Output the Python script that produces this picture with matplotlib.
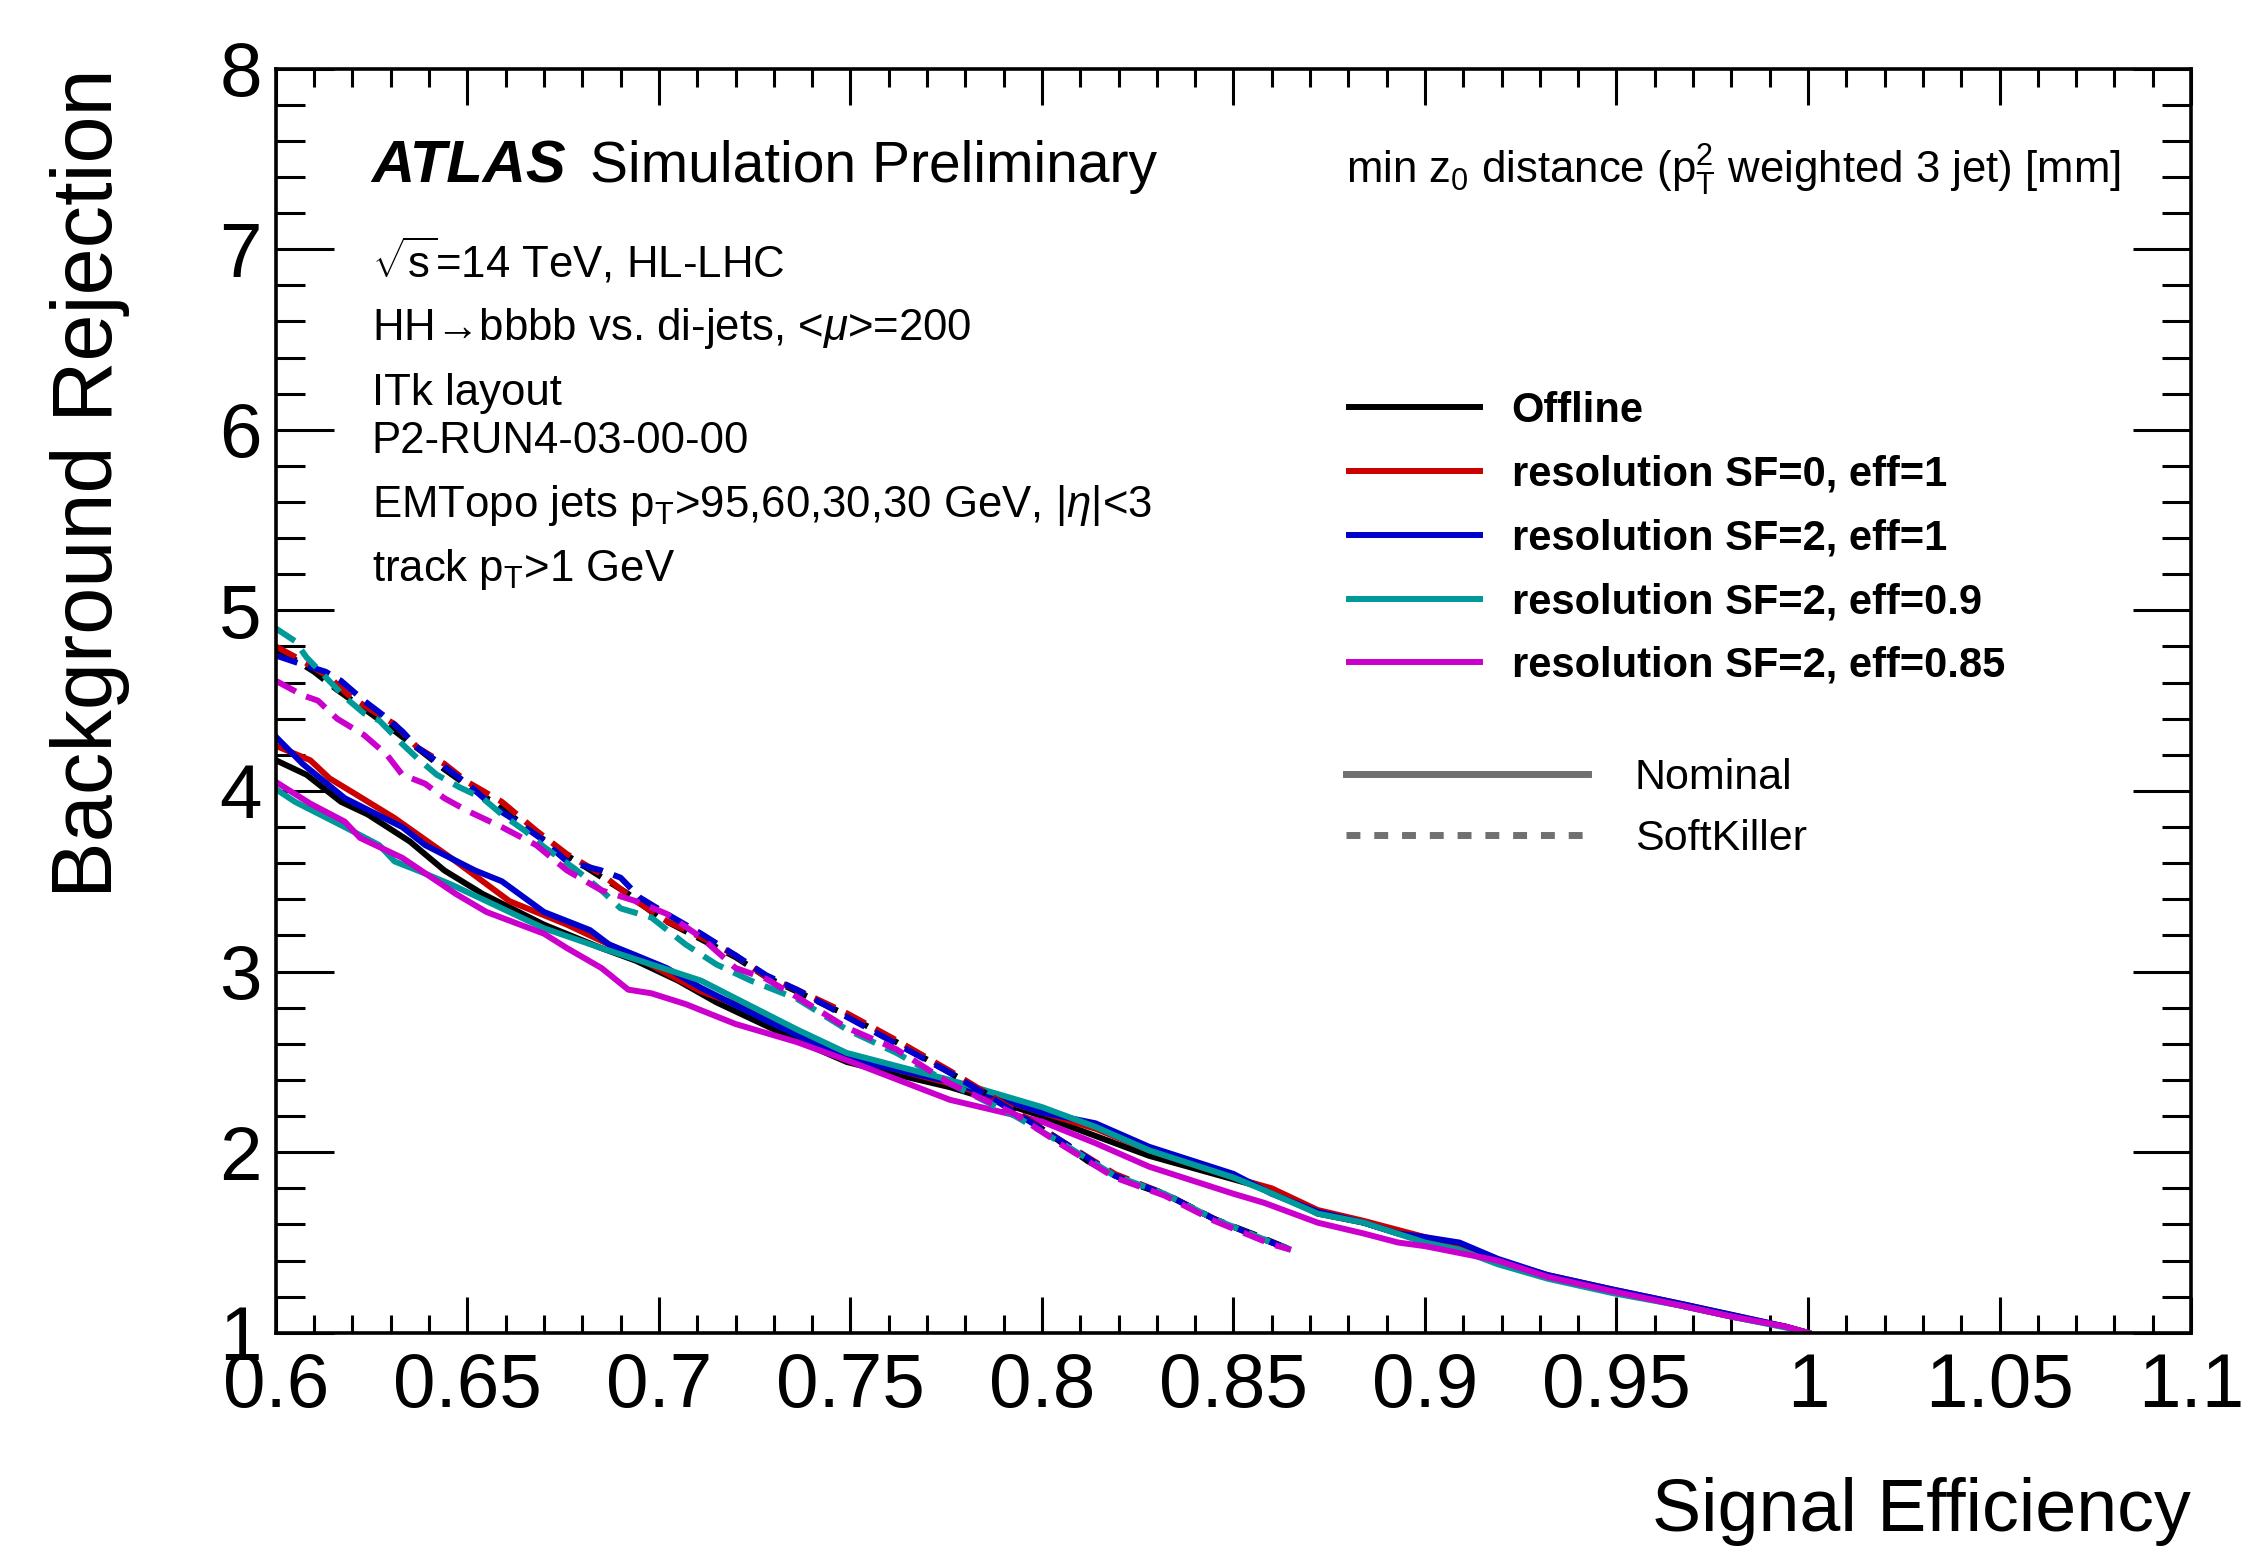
import matplotlib
matplotlib.use("Agg")
import matplotlib.pyplot as plt
from matplotlib.lines import Line2D
from matplotlib.ticker import MultipleLocator

plt.rcParams['font.family'] = ['Liberation Sans', 'DejaVu Sans']
plt.rcParams['mathtext.fontset'] = 'custom'
plt.rcParams['mathtext.rm'] = 'Liberation Sans'
plt.rcParams['mathtext.it'] = 'Liberation Sans:italic'
plt.rcParams['mathtext.bf'] = 'Liberation Sans:bold'

# ---- data ----
labels = ['Offline', 'resolution SF=0, eff=1', 'resolution SF=2, eff=1',
          'resolution SF=2, eff=0.9', 'resolution SF=2, eff=0.85']
colors = ['#000000', '#cc0000', '#0000cc', '#009999', '#cc00cc']

# nominal (solid)
x_off = [0.600, 0.608, 0.617, 0.624, 0.635, 0.644, 0.654, 0.670, 0.685, 0.694, 0.705, 0.715,
         0.728, 0.736, 0.749, 0.762, 0.776, 0.790, 0.800, 0.814, 0.828, 0.850, 0.860, 0.872,
         0.884, 0.893, 0.900, 0.909, 0.919, 0.932, 0.949, 0.967, 0.980, 0.994, 1.000]
y_off = [4.17, 4.09, 3.94, 3.87, 3.72, 3.56, 3.43, 3.26, 3.13, 3.06, 2.95, 2.83,
         2.70, 2.62, 2.50, 2.43, 2.36, 2.27, 2.20, 2.09, 1.98, 1.85, 1.79, 1.66,
         1.61, 1.55, 1.52, 1.47, 1.40, 1.31, 1.23, 1.15, 1.09, 1.035, 1.00]

x_sf0 = [0.600, 0.609, 0.614, 0.621, 0.631, 0.647, 0.661, 0.676, 0.694, 0.711, 0.728, 0.749,
         0.776, 0.800, 0.814, 0.828, 0.850, 0.860, 0.872, 0.884, 0.900, 0.909, 0.919, 0.932,
         0.949, 0.967, 0.980, 0.994, 1.000]
y_sf0 = [4.25, 4.17, 4.07, 3.98, 3.85, 3.61, 3.39, 3.26, 3.08, 2.89, 2.76, 2.53,
         2.38, 2.22, 2.13, 2.01, 1.86, 1.80, 1.68, 1.62, 1.53, 1.48, 1.40, 1.32,
         1.24, 1.16, 1.10, 1.035, 1.00]

x_sf2 = [0.600, 0.607, 0.618, 0.633, 0.639, 0.652, 0.659, 0.670, 0.682, 0.687, 0.694, 0.702,
         0.711, 0.728, 0.749, 0.776, 0.800, 0.814, 0.828, 0.850, 0.860, 0.872, 0.884, 0.893,
         0.900, 0.909, 0.919, 0.932, 0.949, 0.967, 0.980, 0.994, 1.000]
y_sf2 = [4.30, 4.15, 3.96, 3.80, 3.70, 3.56, 3.50, 3.33, 3.23, 3.15, 3.09, 3.02,
         2.91, 2.73, 2.52, 2.39, 2.22, 2.16, 2.03, 1.88, 1.77, 1.67, 1.61, 1.55,
         1.53, 1.50, 1.41, 1.32, 1.24, 1.16, 1.10, 1.035, 1.00]

x_e09 = [0.600, 0.605, 0.618, 0.627, 0.631, 0.637, 0.646, 0.659, 0.670, 0.685, 0.698, 0.711,
         0.723, 0.736, 0.749, 0.776, 0.800, 0.814, 0.828, 0.850, 0.858, 0.872, 0.884, 0.900,
         0.909, 0.919, 0.932, 0.949, 0.967, 0.980, 0.994, 1.000]
y_e09 = [4.01, 3.94, 3.80, 3.70, 3.61, 3.56, 3.48, 3.35, 3.24, 3.13, 3.04, 2.95,
         2.82, 2.68, 2.55, 2.40, 2.25, 2.14, 2.01, 1.86, 1.79, 1.66, 1.61, 1.50,
         1.46, 1.38, 1.30, 1.22, 1.15, 1.09, 1.03, 1.00]

x_e085 = [0.600, 0.609, 0.618, 0.622, 0.633, 0.647, 0.655, 0.670, 0.676, 0.685, 0.692, 0.698,
          0.707, 0.720, 0.728, 0.736, 0.749, 0.776, 0.800, 0.814, 0.828, 0.850, 0.858, 0.872,
          0.884, 0.893, 0.900, 0.919, 0.932, 0.949, 0.967, 0.980, 0.994, 1.000]
y_e085 = [4.05, 3.93, 3.83, 3.74, 3.63, 3.43, 3.33, 3.21, 3.13, 3.02, 2.90, 2.88,
          2.82, 2.71, 2.66, 2.61, 2.51, 2.29, 2.17, 2.05, 1.92, 1.77, 1.72, 1.61,
          1.55, 1.50, 1.48, 1.40, 1.31, 1.23, 1.15, 1.09, 1.035, 1.00]

# SoftKiller (dashed)
xs_off = [0.600, 0.604, 0.610, 0.616, 0.622, 0.628, 0.633, 0.638, 0.644, 0.650, 0.658, 0.666,
          0.674, 0.683, 0.692, 0.700, 0.710, 0.720, 0.728, 0.736, 0.749, 0.762, 0.776, 0.790,
          0.800, 0.812, 0.822, 0.834, 0.845, 0.856, 0.865]
ys_off = [4.78, 4.74, 4.66, 4.56, 4.47, 4.38, 4.30, 4.22, 4.12, 4.03, 3.92, 3.79,
          3.67, 3.55, 3.43, 3.30, 3.19, 3.08, 2.97, 2.89, 2.76, 2.61, 2.44, 2.27,
          2.13, 1.95, 1.84, 1.75, 1.63, 1.54, 1.46]

xs_sf0 = [0.600, 0.607, 0.614, 0.619, 0.624, 0.631, 0.637, 0.644, 0.650, 0.659, 0.668, 0.676,
          0.685, 0.694, 0.702, 0.711, 0.720, 0.728, 0.736, 0.749, 0.762, 0.776, 0.793, 0.806,
          0.819, 0.832, 0.845, 0.860, 0.865]
ys_sf0 = [4.80, 4.72, 4.63, 4.53, 4.46, 4.37, 4.24, 4.15, 4.05, 3.94, 3.78, 3.65,
          3.54, 3.39, 3.28, 3.19, 3.09, 2.97, 2.90, 2.77, 2.62, 2.45, 2.23, 2.05,
          1.88, 1.77, 1.63, 1.50, 1.46]

xs_sf2 = [0.600, 0.607, 0.613, 0.617, 0.623, 0.628, 0.633, 0.637, 0.643, 0.650, 0.657, 0.663,
          0.669, 0.676, 0.685, 0.690, 0.695, 0.702, 0.711, 0.720, 0.728, 0.736, 0.749, 0.762,
          0.776, 0.793, 0.806, 0.819, 0.832, 0.845, 0.860, 0.865]
ys_sf2 = [4.75, 4.70, 4.66, 4.61, 4.50, 4.42, 4.33, 4.24, 4.15, 4.04, 3.91, 3.83,
          3.74, 3.61, 3.56, 3.52, 3.41, 3.32, 3.21, 3.09, 2.98, 2.90, 2.75, 2.60,
          2.44, 2.22, 2.05, 1.87, 1.77, 1.63, 1.50, 1.46]

xs_e09 = [0.600, 0.605, 0.608, 0.613, 0.618, 0.623, 0.627, 0.633, 0.637, 0.642, 0.648, 0.654,
          0.659, 0.665, 0.670, 0.678, 0.685, 0.690, 0.698, 0.707, 0.715, 0.724, 0.736, 0.749,
          0.762, 0.776, 0.793, 0.806, 0.819, 0.832, 0.845, 0.860, 0.865]
ys_e09 = [4.90, 4.83, 4.74, 4.63, 4.52, 4.43, 4.39, 4.26, 4.18, 4.09, 4.02, 3.96,
          3.87, 3.78, 3.69, 3.57, 3.45, 3.35, 3.30, 3.15, 3.04, 2.95, 2.85, 2.68,
          2.55, 2.38, 2.20, 2.04, 1.87, 1.77, 1.63, 1.50, 1.46]

xs_e085 = [0.600, 0.607, 0.611, 0.616, 0.623, 0.629, 0.633, 0.639, 0.644, 0.650, 0.659, 0.668,
           0.676, 0.685, 0.694, 0.702, 0.711, 0.720, 0.728, 0.736, 0.749, 0.762, 0.776, 0.793,
           0.806, 0.819, 0.832, 0.845, 0.860, 0.865]
ys_e085 = [4.61, 4.53, 4.50, 4.40, 4.31, 4.20, 4.09, 4.04, 3.96, 3.89, 3.80, 3.70,
           3.56, 3.45, 3.39, 3.32, 3.19, 3.02, 2.96, 2.86, 2.69, 2.57, 2.38, 2.21,
           2.03, 1.86, 1.76, 1.62, 1.49, 1.46]

nominal = [(x_off, y_off), (x_sf0, y_sf0), (x_sf2, y_sf2), (x_e09, y_e09), (x_e085, y_e085)]
softkiller = [(xs_off, ys_off), (xs_sf0, ys_sf0), (xs_sf2, ys_sf2), (xs_e09, ys_e09), (xs_e085, ys_e085)]

info_lines = [r'$\sqrt{\mathrm{s}}$=14 TeV, HL-LHC',
              'HH\u2192bbbb vs. di-jets, <$\\mu$>=200',
              'ITk layout',
              'P2-RUN4-03-00-00',
              r'EMTopo jets p$_{\mathrm{T}}$>95,60,30,30 GeV, |$\eta$|<3',
              r'track p$_{\mathrm{T}}$>1 GeV']
info_y = [0.835, 0.785, 0.734, 0.696, 0.645, 0.595]

# ---- plot ----
fig = plt.figure(figsize=(22.41, 15.50), dpi=100)
ax = fig.add_axes([0.1231, 0.1401, 0.8546, 0.8157])

lw = 4.3
handles = []
for (x, y), c, lab in zip(nominal, colors, labels):
    h, = ax.plot(x, y, color=c, lw=lw, label=lab, solid_joinstyle='round')
    handles.append(h)
for (x, y), c in zip(softkiller, colors):
    ax.plot(x, y, color=c, lw=lw, linestyle=(0, (3.8, 1.9)))

ax.set_xlim(0.6, 1.1)
ax.set_ylim(1, 8)
ax.xaxis.set_minor_locator(MultipleLocator(0.01))
ax.yaxis.set_minor_locator(MultipleLocator(0.2))
ax.set_xticks([0.6, 0.65, 0.7, 0.75, 0.8, 0.85, 0.9, 0.95, 1.0, 1.05, 1.1])
ax.set_xticklabels(['0.6', '0.65', '0.7', '0.75', '0.8', '0.85', '0.9', '0.95', '1', '1.05', '1.1'])
ax.set_yticks([1, 2, 3, 4, 5, 6, 7, 8])
ax.set_yticklabels(['1', '2', '3', '4', '5', '6', '7', '8'])

ax.tick_params(axis='x', which='major', direction='in', top=True, length=26, width=2.2,
               labelsize=55, pad=14)
ax.tick_params(axis='x', which='minor', direction='in', top=True, length=13, width=2.2)
ax.tick_params(axis='y', which='major', direction='in', right=True, length=42, width=2.2,
               labelsize=55, pad=10)
ax.tick_params(axis='y', which='minor', direction='in', right=True, length=21, width=2.2)
for s in ax.spines.values():
    s.set_linewidth(2.6)

ax.set_xlabel('Signal Efficiency', fontsize=53, ha='right')
ax.xaxis.set_label_coords(1.0, -0.114)
ax.set_ylabel('Background Rejection', fontsize=61, ha='right')
ax.yaxis.set_label_coords(-0.076, 1.0)

ax.text(0.05, 0.910, 'ATLAS', transform=ax.transAxes, fontsize=43,
        fontweight='bold', fontstyle='italic')
ax.text(0.164, 0.910, 'Simulation Preliminary', transform=ax.transAxes, fontsize=41)
for t, yy in zip(info_lines, info_y):
    ax.text(0.05, yy, t, transform=ax.transAxes, fontsize=31.5)
ax.text(0.559, 0.909, r'min z$_0$ distance (p$_{\mathrm{T}}^{2}$ weighted 3 jet) [mm]',
        transform=ax.transAxes, fontsize=31.5)

leg1 = ax.legend(handles=handles, loc='upper left', bbox_to_anchor=(0.5604, 0.745),
                 frameon=False, prop={'weight': 'bold', 'size': 30},
                 handlelength=3.15, handletextpad=0.75, labelspacing=0.57,
                 borderpad=0, borderaxespad=0)
ax.add_artist(leg1)
styles = [Line2D([], [], color='#707070', lw=5),
          Line2D([], [], color='#707070', lw=5, linestyle=(0, (2.0, 2.0)))]
ax.legend(handles=styles, labels=['Nominal', 'SoftKiller'], loc='upper left',
          bbox_to_anchor=(0.559, 0.455), frameon=False, fontsize=31,
          handlelength=5.6, handletextpad=1.1, labelspacing=0.5,
          borderpad=0, borderaxespad=0)

fig.savefig('out.png', dpi=100)
